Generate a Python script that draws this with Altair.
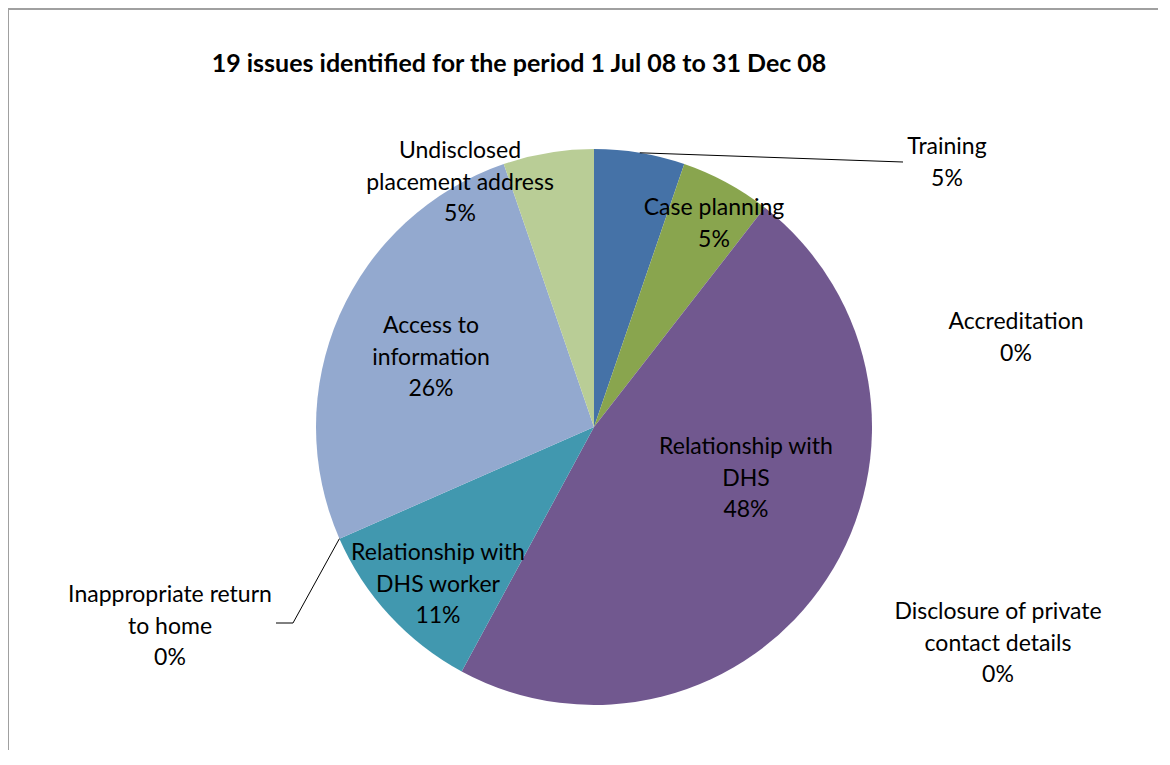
import math
import altair as alt
import pandas as pd

# ---------------- data ----------------
title_text = "19 issues identified for the period 1 Jul 08 to 31 Dec 08"
categories = [
    "Training",
    "Case planning",
    "Accreditation",
    "Relationship with DHS",
    "Disclosure of private contact details",
    "Relationship with DHS worker",
    "Inappropriate return to home",
    "Access to information",
    "Undisclosed placement address",
]
counts = [1, 1, 0, 9, 0, 2, 0, 5, 1]
pct_labels = ["5%", "5%", "0%", "48%", "0%", "11%", "0%", "26%", "5%"]
label_lines = [
    ["Training"],
    ["Case planning"],
    ["Accreditation"],
    ["Relationship with", "DHS"],
    ["Disclosure of private", "contact details"],
    ["Relationship with", "DHS worker"],
    ["Inappropriate return", "to home"],
    ["Access to", "information"],
    ["Undisclosed", "placement address"],
]

# ---------------- layout / style ----------------
W, H = 1150, 742
CX, CY, R = 586, 419, 278
colors = ["#4572A7", "#89A54E", "#AA4643", "#71588F", "#DB843D",
          "#4198AF", "#80699B", "#93A9CF", "#B9CD96"]
label_xy = [(939, 146), (706, 207), (1008, 321), (738, 446), (990, 611),
            (430, 552), (162, 594), (423, 325), (452, 150)]
FONT = "Lato"
LABEL_SIZE = 23
LINE_H = 31.5

# ---------------- pie ----------------
pie_df = pd.DataFrame({"category": categories, "count": counts,
                       "order": list(range(len(categories)))})
pie = alt.Chart(pie_df).mark_arc(outerRadius=R).encode(
    theta=alt.Theta("count:Q", stack=True),
    color=alt.Color("category:N",
                    scale=alt.Scale(domain=categories, range=colors),
                    legend=None),
    order=alt.Order("order:Q"),
    x=alt.value(CX),
    y=alt.value(CY),
)

# ---------------- labels ----------------
lab_df = pd.DataFrame({
    "label": ["\n".join(l + [p]) for l, p in zip(label_lines, pct_labels)],
    "lx": [p[0] for p in label_xy],
    "ly": [p[1] for p in label_xy],
})
labels = alt.Chart(lab_df).mark_text(
    font=FONT, fontSize=LABEL_SIZE, align="center", baseline="alphabetic",
    lineBreak="\n", lineHeight=LINE_H, color="#000000"
).encode(
    x=alt.X("lx:Q", scale=None, axis=None),
    y=alt.Y("ly:Q", scale=None, axis=None),
    text="label:N",
)

# ---------------- leader lines (start at slice edge from data) ----------------
total = sum(counts)
cum = [sum(counts[:i]) for i in range(len(counts))]
def edge_point(angle_frac):
    a = 2 * math.pi * angle_frac
    return CX + R * math.sin(a), CY - R * math.cos(a)

tx, ty = edge_point((cum[0] + counts[0] / 2) / total)       # Training mid
ix, iy = edge_point((cum[6] + counts[6] / 2) / total)       # Inappropriate return
seg_df = pd.DataFrame({
    "x": [tx, ix, 285],
    "y": [ty, iy, 615],
    "x2": [895, 285, 268],
    "y2": [154, 615, 615],
})
leaders = alt.Chart(seg_df).mark_rule(color="#000000", strokeWidth=1).encode(
    x=alt.X("x:Q", scale=None, axis=None),
    y=alt.Y("y:Q", scale=None, axis=None),
    x2="x2:Q",
    y2="y2:Q",
)

# ---------------- title ----------------
title = alt.Chart(pd.DataFrame({"t": [title_text]})).mark_text(
    font=FONT, fontSize=25, fontWeight="bold", align="center",
    baseline="alphabetic", color="#000000"
).encode(x=alt.value(511), y=alt.value(64), text="t:N")

# ---------------- frame ----------------
one = pd.DataFrame({"a": [0]})
frame_left = alt.Chart(one).mark_rule(color="#A0A0A0", strokeWidth=2).encode(
    x=alt.value(0), y=alt.value(0), y2=alt.value(H))
frame_top = alt.Chart(one).mark_rule(color="#A0A0A0", strokeWidth=2).encode(
    x=alt.value(0), x2=alt.value(W), y=alt.value(1))

chart = alt.layer(frame_left, frame_top, pie, leaders, labels, title).properties(
    width=W, height=H, padding=0, autosize="none"
).configure_view(stroke=None)

chart.save("out.html", embed_options={"renderer": "svg", "actions": False})
